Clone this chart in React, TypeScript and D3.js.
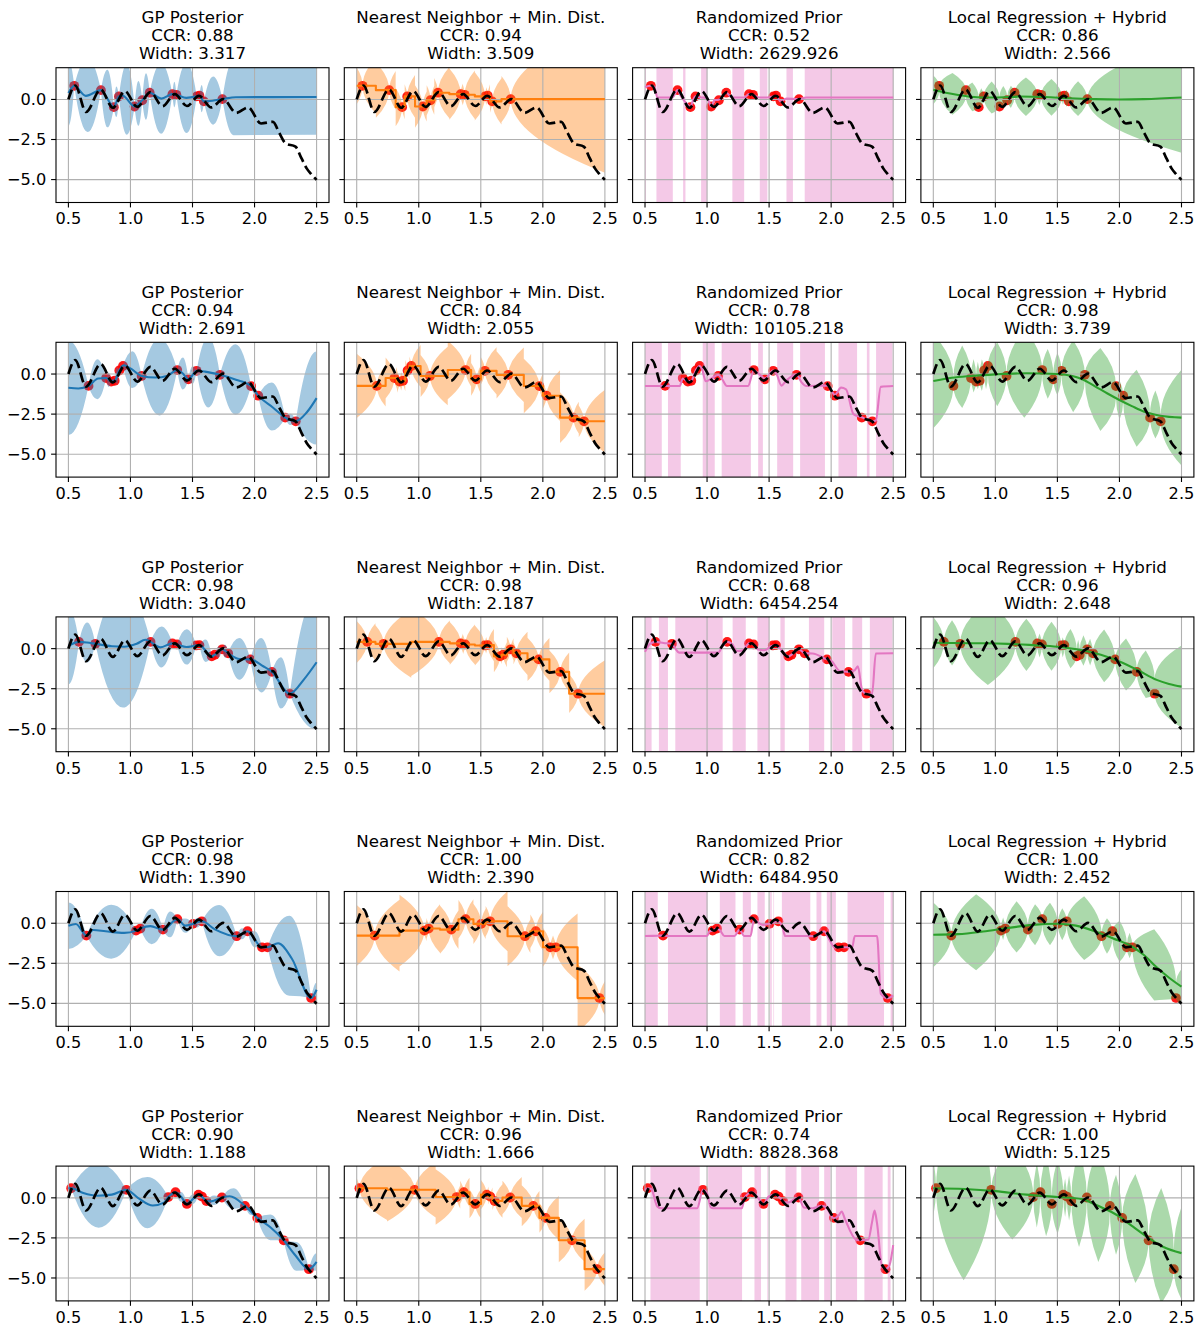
import React from "react";
import * as d3 from "d3";

// ---------------- text ----------------
const METHODS = ["GP Posterior", "Nearest Neighbor + Min. Dist.", "Randomized Prior", "Local Regression + Hybrid"];
const COLORS = ["#1f77b4", "#ff7f0e", "#e377c2", "#2ca02c"];
const CCR_ROWS = [
  ["0.88", "0.94", "0.52", "0.86"],
  ["0.94", "0.84", "0.78", "0.98"],
  ["0.98", "0.98", "0.68", "0.96"],
  ["0.98", "1.00", "0.82", "1.00"],
  ["0.90", "0.96", "0.74", "1.00"],
];
const WIDTH_ROWS = [
  ["3.317", "3.509", "2629.926", "2.566"],
  ["2.691", "2.055", "10105.218", "3.739"],
  ["3.040", "2.187", "6454.254", "2.648"],
  ["1.390", "2.390", "6484.950", "2.452"],
  ["1.188", "1.666", "8828.368", "5.125"],
];
const X_TICKS = [0.5, 1.0, 1.5, 2.0, 2.5];
const Y_TICKS = [-5, -2.5, 0];

// ---------------- true function (dashed) ----------------
const TRUE_X = [0.5, 0.555, 0.642, 0.76, 0.858, 0.955, 1.055, 1.16, 1.258, 1.358, 1.455, 1.552, 1.652, 1.747, 1.852, 1.948, 2.052, 2.148, 2.2, 2.25, 2.33, 2.38, 2.42, 2.456, 2.5];
const TRUE_Y = [0.0, 0.87, -0.78, 0.62, -0.52, 0.52, -0.47, 0.45, -0.42, 0.33, -0.41, 0.22, -0.5, 0.02, -0.84, -0.5, -1.5, -1.4, -2.1, -2.74, -2.95, -3.7, -4.3, -4.65, -5.02];

// ---------------- training points per row ----------------
const P1_X = [0.547, 0.762, 0.866, 0.907, 1.033, 1.095, 1.155, 1.338, 1.37, 1.534, 1.556, 1.592, 1.741];
const P1_Y = [0.85, 0.58, -0.48, 0.19, -0.44, -0.05, 0.42, 0.33, 0.29, 0.19, 0.23, -0.12, 0.02];
const P2_X = [0.662, 0.804, 0.845, 0.873, 0.91, 0.94, 1.09, 1.377, 1.467, 1.533, 1.721, 1.972, 2.03, 2.247, 2.332];
const P2_Y = [-0.74, -0.25, -0.47, -0.42, 0.22, 0.5, -0.12, 0.25, -0.33, 0.2, -0.05, -0.75, -1.35, -2.72, -2.95];
const P3_X = [0.585, 0.717, 1.162, 1.338, 1.375, 1.53, 1.556, 1.655, 1.68, 1.74, 1.787, 1.966, 2.14, 2.284];
const P3_Y = [0.42, 0.3, 0.42, 0.33, 0.26, 0.2, 0.22, -0.48, -0.38, -0.04, -0.29, -0.67, -1.45, -2.81];
const P4_X = [0.645, 1.045, 1.08, 1.262, 1.378, 1.503, 1.575, 1.856, 1.943, 2.06, 2.104, 2.456];
const P4_Y = [-0.77, -0.46, -0.33, -0.4, 0.25, -0.04, 0.12, -0.81, -0.5, -1.5, -1.5, -4.67];
const P5_X = [0.522, 0.967, 1.305, 1.363, 1.455, 1.548, 1.576, 1.612, 1.737, 1.923, 2.022, 2.235, 2.438];
const P5_Y = [0.6, 0.5, 0.05, 0.35, -0.38, 0.2, 0.08, -0.2, 0.02, -0.5, -1.25, -2.65, -4.45];

// ---------------- GP posterior: mean knots, half-widths (left edge, gaps, right edge) ----------------
const GP1_X = [0.5, 0.547, 0.64, 0.762, 0.81, 0.866, 0.907, 0.935, 1.033, 1.095, 1.155, 1.25, 1.338, 1.37, 1.45, 1.534, 1.556, 1.592, 1.66, 1.741, 1.85, 2.5];
const GP1_Y = [0.4, 0.85, 0.22, 0.58, 0.1, -0.48, 0.19, 0.25, -0.44, -0.05, 0.42, 0.05, 0.33, 0.29, 0.1, 0.19, 0.23, -0.12, -0.08, 0.02, 0.14, 0.15];
const GP1_HW = [2.05, 2.3, 1.8, 0.95, 2.2, 1.4, 1.45, 2.2, 0.8, 2.2, 0.25, 0.85, 1.5, 2.35];
const GP1_EX_X = [1.83];
const GP1_EX_HW = [2.35];
const GP2_X = [0.5, 0.58, 0.662, 0.74, 0.804, 0.845, 0.873, 0.91, 0.945, 1.0, 1.09, 1.2, 1.3, 1.377, 1.42, 1.467, 1.533, 1.6, 1.721, 1.85, 1.972, 2.03, 2.15, 2.247, 2.332, 2.42, 2.5];
const GP2_Y = [-0.86, -0.9, -0.74, -0.28, -0.25, -0.47, -0.42, 0.22, 0.55, 0.35, -0.12, -0.22, -0.1, 0.25, 0.05, -0.33, 0.2, 0.15, -0.05, -0.35, -0.75, -1.35, -2.1, -2.72, -2.95, -2.4, -1.5];
const GP2_HW = [2.95, 1.25, 0.45, 0.2, 0.5, 0.2, 1.15, 2.4, 1.0, 0.55, 2.2, 2.2, 0.2, 1.5, 0.35, 2.9];
const GP3_X = [0.5, 0.585, 0.65, 0.717, 0.85, 0.95, 1.05, 1.12, 1.162, 1.24, 1.338, 1.375, 1.45, 1.53, 1.556, 1.655, 1.68, 1.74, 1.787, 1.88, 1.966, 2.07, 2.14, 2.284, 2.4, 2.5];
const GP3_Y = [0.17, 0.42, 0.38, 0.3, 0.15, 0.12, 0.3, 0.55, 0.42, 0.08, 0.33, 0.26, 0.1, 0.2, 0.22, -0.48, -0.38, -0.04, -0.29, -0.65, -0.67, -1.1, -1.45, -2.81, -1.9, -0.85];
const GP3_HW = [2.4, 1.25, 3.8, 1.28, 0.15, 1.1, 0.1, 0.7, 0.15, 0.35, 0.4, 1.3, 1.7, 1.6, 4.2];
const GP4_X = [0.5, 0.56, 0.645, 0.7, 0.8, 0.95, 1.045, 1.08, 1.16, 1.262, 1.378, 1.44, 1.503, 1.575, 1.68, 1.856, 1.943, 2.06, 2.104, 2.19, 2.3, 2.456, 2.5];
const GP4_Y = [-0.15, -0.05, -0.77, -0.42, -0.5, -0.6, -0.46, -0.33, -0.18, -0.4, 0.25, -0.15, -0.04, 0.12, -0.38, -0.81, -0.5, -1.5, -1.5, -1.25, -2.2, -4.67, -4.15];
const GP4_HW = [1.45, 1.68, 0.1, 1.1, 0.8, 0.45, 0.3, 1.6, 0.35, 0.5, 0.1, 2.5, 0.45];
const GP5_X = [0.5, 0.522, 0.62, 0.73, 0.85, 0.967, 1.06, 1.18, 1.27, 1.305, 1.363, 1.41, 1.455, 1.548, 1.576, 1.612, 1.65, 1.737, 1.8, 1.923, 2.022, 2.13, 2.235, 2.33, 2.438, 2.5];
const GP5_Y = [0.6, 0.6, 0.3, 0.13, 0.2, 0.5, 0.0, -0.48, -0.3, 0.05, 0.35, 0.05, -0.38, 0.2, 0.08, -0.2, -0.22, 0.02, 0.1, -0.5, -1.25, -1.85, -2.65, -3.6, -4.45, -4.0];
const GP5_HW = [0.2, 2.0, 1.6, 0.1, 0.3, 0.3, 0.05, 0.1, 0.3, 0.65, 0.2, 0.8, 0.9, 0.55];

// ---------------- Nearest neighbour: half-widths (left edge, gaps, right edge) ----------------
const NN1_HW = [1.15, 1.73, 1.2, 0.76, 1.33, 0.93, 0.91, 1.6, 0.67, 1.51, 0.55, 0.71, 1.44, 4.6];
const NN2_HW = [2.0, 1.28, 0.69, 0.57, 0.65, 0.59, 1.31, 1.82, 1.02, 0.87, 1.47, 1.7, 0.82, 1.58, 0.99, 1.97];
const NN3_HW = [1.31, 1.16, 2.12, 1.33, 0.61, 1.25, 0.51, 1.0, 0.5, 0.78, 0.69, 1.35, 1.33, 1.21, 2.09];
const NN4_HW = [1.9, 2.24, 0.66, 1.51, 1.2, 1.25, 0.95, 1.87, 1.04, 1.21, 0.74, 2.1, 1.05];
const NN5_HW = [0.62, 1.98, 1.73, 0.72, 0.9, 0.91, 0.5, 0.56, 1.05, 1.28, 0.93, 1.37, 1.34, 1.05];

// ---------------- Randomized prior: mean knots and wide-band intervals ----------------
const RP1_X = [0.5, 0.547, 0.575, 0.6, 0.72, 0.762, 0.79, 0.84, 0.866, 0.885, 0.907, 0.95, 1.0, 1.033, 1.06, 1.095, 1.155, 1.2, 1.3, 1.338, 1.37, 1.42, 1.49, 1.534, 1.556, 1.592, 1.64, 1.741, 1.8, 2.5];
const RP1_Y = [0.78, 0.85, 0.8, 0.12, 0.12, 0.58, 0.2, -0.3, -0.48, -0.1, 0.19, 0.12, 0.1, -0.44, -0.05, -0.02, 0.42, 0.12, 0.12, 0.33, 0.29, 0.12, 0.12, 0.19, 0.23, -0.12, 0.05, 0.02, 0.12, 0.12];
const RP1_S0 = [0.5, 0.592, 0.807, 0.952, 1.204, 1.425, 1.64, 1.787];
const RP1_S1 = [0.508, 0.724, 0.826, 1.001, 1.299, 1.486, 1.692, 2.5];
const RP2_X = [0.5, 0.78, 0.804, 0.845, 0.873, 0.91, 0.94, 0.96, 0.99, 1.03, 1.09, 1.12, 1.16, 1.33, 1.377, 1.42, 1.467, 1.533, 1.56, 1.6, 1.64, 1.721, 1.76, 1.8, 1.95, 1.972, 2.03, 2.08, 2.12, 2.18, 2.247, 2.332, 2.36, 2.4, 2.5];
const RP2_Y = [-0.75, -0.75, -0.28, -0.45, -0.42, 0.25, 0.5, 0.3, -0.45, -0.3, -0.05, -0.3, -0.75, -0.75, 0.22, 0.0, -0.28, 0.22, 0.0, -0.72, -0.4, -0.02, -0.5, -0.75, -0.72, -0.72, -1.3, -0.85, -0.95, -2.5, -2.7, -2.95, -2.9, -0.8, -0.75];
const RP2_S0 = [0.5, 0.685, 0.965, 1.118, 1.412, 1.565, 1.75, 2.059, 2.288, 2.362];
const RP2_S1 = [0.635, 0.788, 1.062, 1.353, 1.45, 1.694, 1.95, 2.209, 2.309, 2.494];
const RP3_X = [0.5, 0.54, 0.585, 0.65, 0.717, 0.745, 0.775, 1.09, 1.12, 1.162, 1.2, 1.24, 1.29, 1.338, 1.375, 1.41, 1.46, 1.53, 1.556, 1.6, 1.655, 1.68, 1.74, 1.787, 1.85, 1.966, 2.0, 2.07, 2.14, 2.19, 2.215, 2.25, 2.284, 2.33, 2.36, 2.5];
const RP3_Y = [-0.2, 0.3, 0.42, 0.35, 0.3, 0.0, -0.25, -0.25, 0.1, 0.42, 0.3, -0.15, -0.1, 0.33, 0.26, -0.05, -0.1, 0.2, 0.22, -0.1, -0.48, -0.38, -0.04, -0.29, -0.3, -0.67, -0.75, -1.4, -1.45, -1.35, -1.1, -2.6, -2.81, -2.81, -0.3, -0.29];
const RP3_S0 = [0.5, 0.612, 0.744, 1.206, 1.406, 1.591, 1.821, 2.009, 2.171, 2.312];
const RP3_S1 = [0.553, 0.685, 1.126, 1.312, 1.5, 1.626, 1.944, 2.112, 2.25, 2.494];
const RP4_X = [0.5, 0.6, 0.645, 0.69, 1.0, 1.02, 1.045, 1.08, 1.11, 1.14, 1.22, 1.262, 1.3, 1.35, 1.378, 1.42, 1.45, 1.503, 1.575, 1.61, 1.63, 1.82, 1.856, 1.9, 1.943, 1.97, 2.03, 2.06, 2.104, 2.17, 2.19, 2.37, 2.4, 2.456, 2.5];
const RP4_Y = [-0.8, -0.78, -0.77, -0.8, -0.8, -0.5, -0.46, -0.33, -0.5, -0.8, -0.8, -0.4, -0.8, -0.8, 0.25, 0.0, -0.1, -0.04, 0.12, -0.3, -0.8, -0.8, -0.81, -0.7, -0.5, -0.8, -1.5, -1.5, -1.5, -1.5, -0.8, -0.8, -4.4, -4.67, -4.5];
const RP4_S0 = [0.5, 0.685, 1.103, 1.288, 1.406, 1.509, 1.535, 1.603, 1.882, 1.965, 2.132, 2.479];
const RP4_S1 = [0.603, 1.003, 1.229, 1.353, 1.465, 1.521, 1.54, 1.832, 1.921, 2.038, 2.426, 2.5];
const RP5_X = [0.5, 0.522, 0.55, 0.6, 0.63, 0.92, 0.967, 1.0, 1.03, 1.05, 1.28, 1.305, 1.363, 1.41, 1.455, 1.5, 1.548, 1.576, 1.612, 1.65, 1.737, 1.78, 1.85, 1.923, 1.96, 2.022, 2.06, 2.085, 2.11, 2.2, 2.235, 2.3, 2.33, 2.35, 2.37, 2.41, 2.438, 2.47, 2.5];
const RP5_Y = [0.5, 0.6, 0.55, -0.55, -0.65, -0.65, 0.5, 0.3, -0.6, -0.65, -0.65, 0.05, 0.35, 0.0, -0.38, 0.1, 0.2, 0.08, -0.2, -0.3, 0.02, -0.6, -0.65, -0.5, -0.6, -1.28, -1.1, -0.85, -1.3, -2.6, -2.65, -2.6, -1.5, -0.8, -1.6, -4.3, -4.45, -4.2, -2.95];
const RP5_S0 = [0.544, 1.009, 1.382, 1.486, 1.632, 1.759, 1.944, 2.038, 2.268, 2.456];
const RP5_S1 = [0.941, 1.282, 1.435, 1.494, 1.721, 1.903, 1.994, 2.209, 2.415, 2.479];

// ---------------- Local regression + hybrid: mean knots, half-widths ----------------
const LR1_X = [0.5, 0.6, 0.7, 0.8, 0.9, 1.0, 1.2, 1.4, 1.6, 1.8, 2.0, 2.2, 2.5];
const LR1_Y = [0.6, 0.42, 0.28, 0.17, 0.12, 0.12, 0.18, 0.15, 0.07, 0.02, 0.0, 0.02, 0.12];
const LR1_HW = [0.9, 1.3, 0.9, 0.57, 1.0, 0.7, 0.69, 1.2, 0.5, 1.14, 0.42, 0.53, 1.08, 3.45];
const LR2_X = [0.5, 0.65, 0.8, 1.0, 1.25, 1.5, 1.62, 1.7, 1.8, 1.9, 2.0, 2.1, 2.2, 2.33, 2.5];
const LR2_Y = [-0.44, -0.23, -0.12, -0.02, 0.05, 0.0, -0.12, -0.32, -0.75, -1.2, -1.62, -2.0, -2.35, -2.6, -2.72];
const LR2_HW = [2.94, 1.95, 1.05, 0.86, 0.99, 0.89, 2.0, 2.77, 1.55, 1.33, 2.24, 2.59, 1.24, 2.4, 1.5, 2.99];
const LR3_X = [0.5, 0.8, 1.1, 1.3, 1.5, 1.7, 1.85, 2.0, 2.15, 2.3, 2.4, 2.5];
const LR3_Y = [0.37, 0.34, 0.3, 0.22, 0.12, -0.1, -0.38, -0.8, -1.35, -1.95, -2.2, -2.37];
const LR3_HW = [1.6, 1.41, 2.59, 1.63, 0.75, 1.53, 0.63, 1.22, 0.61, 0.95, 0.84, 1.65, 1.62, 1.48, 2.56];
const LR4_X = [0.5, 0.7, 0.9, 1.1, 1.3, 1.5, 1.65, 1.8, 1.95, 2.1, 2.2, 2.3, 2.4, 2.5];
const LR4_Y = [-0.72, -0.68, -0.52, -0.3, -0.1, -0.03, -0.15, -0.5, -0.95, -1.45, -2.0, -2.75, -3.4, -3.96];
const LR4_HW = [2.02, 2.37, 0.7, 1.6, 1.28, 1.33, 1.0, 1.99, 1.11, 1.28, 0.79, 2.22, 1.11];
const LR5_X = [0.5, 0.75, 1.0, 1.25, 1.5, 1.7, 1.8, 1.9, 2.0, 2.1, 2.235, 2.35, 2.5];
const LR5_Y = [0.6, 0.55, 0.42, 0.2, 0.05, -0.08, -0.4, -0.75, -1.17, -1.75, -2.5, -3.05, -3.45];
const LR5_HW = [1.75, 5.7, 2.9, 2.0, 2.5, 2.3, 1.2, 1.4, 3.0, 3.5, 2.5, 3.4, 3.6, 2.9];

const EMPTY: number[] = [];

const ROWS = [
  { px: P1_X, py: P1_Y, gx: GP1_X, gy: GP1_Y, ghw: GP1_HW, gex: GP1_EX_X, gew: GP1_EX_HW, nhw: NN1_HW, rx: RP1_X, ry: RP1_Y, s0: RP1_S0, s1: RP1_S1, lx: LR1_X, ly: LR1_Y, lhw: LR1_HW },
  { px: P2_X, py: P2_Y, gx: GP2_X, gy: GP2_Y, ghw: GP2_HW, gex: EMPTY, gew: EMPTY, nhw: NN2_HW, rx: RP2_X, ry: RP2_Y, s0: RP2_S0, s1: RP2_S1, lx: LR2_X, ly: LR2_Y, lhw: LR2_HW },
  { px: P3_X, py: P3_Y, gx: GP3_X, gy: GP3_Y, ghw: GP3_HW, gex: EMPTY, gew: EMPTY, nhw: NN3_HW, rx: RP3_X, ry: RP3_Y, s0: RP3_S0, s1: RP3_S1, lx: LR3_X, ly: LR3_Y, lhw: LR3_HW },
  { px: P4_X, py: P4_Y, gx: GP4_X, gy: GP4_Y, ghw: GP4_HW, gex: EMPTY, gew: EMPTY, nhw: NN4_HW, rx: RP4_X, ry: RP4_Y, s0: RP4_S0, s1: RP4_S1, lx: LR4_X, ly: LR4_Y, lhw: LR4_HW },
  { px: P5_X, py: P5_Y, gx: GP5_X, gy: GP5_Y, ghw: GP5_HW, gex: EMPTY, gew: EMPTY, nhw: NN5_HW, rx: RP5_X, ry: RP5_Y, s0: RP5_S0, s1: RP5_S1, lx: LR5_X, ly: LR5_Y, lhw: LR5_HW },
];

// ---------------- layout ----------------
const AX_LEFT0 = 56;
const AX_DX = 288.3;
const AX_TOP0 = 67.7;
const AX_DY = 274.6;
const AX_W = 273;
const AX_H = 134.8;
const X_DOMAIN = [0.4, 2.6];
const Y_DOMAIN = [-6.43, 1.98];
const FONT = "'DejaVu Sans', Verdana, sans-serif";
const TICK_FS = 16.2;
const TITLE_FS = 16.67;

type Knot = { x: number; lo: number; hi: number; p: boolean };

function gapCenters(px: number[]): number[] {
  const m = [0.5];
  for (let i = 0; i < px.length - 1; i++) m.push((px[i] + px[i + 1]) / 2);
  m.push(2.5);
  return m;
}

function gpKnots(r: any): Knot[] {
  const mean = d3.scaleLinear().domain(r.gx).range(r.gy);
  const ks: Knot[] = r.px.map((x: number, i: number) => ({ x, lo: r.py[i], hi: r.py[i], p: true }));
  gapCenters(r.px).forEach((x, j) => {
    const c = mean(x);
    ks.push({ x, lo: c - r.ghw[j], hi: c + r.ghw[j], p: false });
  });
  r.gex.forEach((x: number, j: number) => {
    const c = mean(x);
    ks.push({ x, lo: c - r.gew[j], hi: c + r.gew[j], p: false });
  });
  return ks.sort((a, b) => a.x - b.x);
}

function nnKnots(r: any): Knot[] {
  const n = r.px.length;
  const m = gapCenters(r.px);
  const hw = r.nhw;
  const ks: Knot[] = [{ x: 0.5, lo: r.py[0] - hw[0], hi: r.py[0] + hw[0], p: false }];
  for (let i = 0; i < n; i++) {
    ks.push({ x: r.px[i], lo: r.py[i], hi: r.py[i], p: true });
    if (i < n - 1) {
      const h = hw[i + 1];
      ks.push({ x: m[i + 1], lo: r.py[i] - h, hi: r.py[i] + h, p: false });
      ks.push({ x: m[i + 1], lo: r.py[i + 1] - h, hi: r.py[i + 1] + h, p: false });
    }
  }
  ks.push({ x: 2.5, lo: r.py[n - 1] - hw[n], hi: r.py[n - 1] + hw[n], p: false });
  return ks;
}

function lrKnots(r: any): Knot[] {
  const mean = d3.scaleLinear().domain(r.lx).range(r.ly);
  const ks: Knot[] = r.px.map((x: number, i: number) => {
    const c = mean(x);
    return { x, lo: Math.min(c, r.py[i]), hi: Math.max(c, r.py[i]), p: true };
  });
  gapCenters(r.px).forEach((x, j) => {
    const c = mean(x);
    ks.push({ x, lo: c - r.lhw[j], hi: c + r.lhw[j], p: false });
  });
  return ks.sort((a, b) => a.x - b.x);
}

function bandPath(ks: Knot[], sx: any, sy: any, style: "para" | "sqrt"): string {
  const p = d3.path();
  const seg = (a: Knot, b: Knot, key: "lo" | "hi") => {
    if (a.x === b.x || a.p === b.p) {
      p.lineTo(sx(b.x), sy(b[key]));
      return;
    }
    const P = a.p ? a : b;
    const Q = a.p ? b : a;
    let cx: number, cy: number;
    if (style === "para") {
      cx = (P.x + Q.x) / 2;
      cy = Q[key];
    } else {
      cx = P.x;
      cy = (P[key] + Q[key]) / 2;
    }
    p.quadraticCurveTo(sx(cx), sy(cy), sx(b.x), sy(b[key]));
  };
  p.moveTo(sx(ks[0].x), sy(ks[0].hi));
  for (let i = 1; i < ks.length; i++) seg(ks[i - 1], ks[i], "hi");
  p.lineTo(sx(ks[ks.length - 1].x), sy(ks[ks.length - 1].lo));
  for (let i = ks.length - 2; i >= 0; i--) seg(ks[i + 1], ks[i], "lo");
  p.closePath();
  return p.toString();
}

const zip = (xs: number[], ys: number[]): [number, number][] => xs.map((x, i) => [x, ys[i]]);

function Panel({ ri, ci }: { ri: number; ci: number }) {
  const r = ROWS[ri];
  const left = AX_LEFT0 + ci * AX_DX;
  const top = AX_TOP0 + ri * AX_DY;
  const sx = d3.scaleLinear().domain(X_DOMAIN).range([left, left + AX_W]);
  const sy = d3.scaleLinear().domain(Y_DOMAIN).range([top + AX_H, top]);
  const color = COLORS[ci];
  const clipId = `clip-${ri}-${ci}`;
  const mono = d3
    .line<[number, number]>()
    .x((d) => sx(d[0]))
    .y((d) => sy(d[1]))
    .curve(d3.curveMonotoneX);
  const trueD = mono(zip(TRUE_X, TRUE_Y)) || "";

  let bandD = "";
  let meanD = "";
  let stripes: [number, number][] = [];
  if (ci === 0) {
    bandD = bandPath(gpKnots(r), sx, sy, "para");
    meanD = mono(zip(r.gx, r.gy)) || "";
  } else if (ci === 1) {
    bandD = bandPath(nnKnots(r), sx, sy, "sqrt");
    const m = gapCenters(r.px);
    const steps: [number, number][] = r.px.map((_, i) => [m[i], r.py[i]] as [number, number]);
    steps.push([2.5, r.py[r.py.length - 1]]);
    const stepLine = d3
      .line<[number, number]>()
      .x((d) => sx(d[0]))
      .y((d) => sy(d[1]))
      .curve(d3.curveStepAfter);
    meanD = stepLine(steps) || "";
  } else if (ci === 2) {
    stripes = zip(r.s0, r.s1);
    meanD = mono(zip(r.rx, r.ry)) || "";
  } else {
    bandD = bandPath(lrKnots(r), sx, sy, "sqrt");
    meanD = mono(zip(r.lx, r.ly)) || "";
  }

  const bottom = top + AX_H;
  const cx = left + AX_W / 2;
  const titleBase = top - 8.3;
  const fmtY = (v: number) => (v < 0 ? "\u2212" : "") + Math.abs(v).toFixed(1);

  return (
    <g>
      <defs>
        <clipPath id={clipId}>
          <rect x={left} y={top} width={AX_W} height={AX_H} />
        </clipPath>
      </defs>
      <g clipPath={`url(#${clipId})`}>
        {r.px.map((x, i) => (
          <circle key={i} cx={sx(x)} cy={sy(r.py[i])} r={4.9} fill="#ff0000" fillOpacity={0.9} />
        ))}
        {bandD && <path d={bandD} fill={color} fillOpacity={0.4} stroke="none" />}
        {stripes.map(([a, b], i) => (
          <rect key={i} x={sx(a)} y={top} width={sx(b) - sx(a)} height={AX_H} fill={color} fillOpacity={0.4} />
        ))}
        {X_TICKS.map((t) => (
          <line key={"gx" + t} x1={sx(t)} x2={sx(t)} y1={top} y2={bottom} stroke="#b0b0b0" strokeWidth={1.1} />
        ))}
        {Y_TICKS.map((t) => (
          <line key={"gy" + t} x1={left} x2={left + AX_W} y1={sy(t)} y2={sy(t)} stroke="#b0b0b0" strokeWidth={1.1} />
        ))}
        <path d={meanD} fill="none" stroke={color} strokeWidth={2.1} strokeLinejoin="round" />
        <path d={trueD} fill="none" stroke="#000" strokeWidth={2.7} strokeDasharray="10.3,4.4" />
      </g>
      <rect x={left} y={top} width={AX_W} height={AX_H} fill="none" stroke="#000" strokeWidth={1.1} />
      {X_TICKS.map((t) => (
        <g key={"xt" + t}>
          <line x1={sx(t)} x2={sx(t)} y1={bottom} y2={bottom + 4.9} stroke="#000" strokeWidth={1.1} />
          <text x={sx(t)} y={bottom + 21.8} textAnchor="middle" fontSize={TICK_FS} fontFamily={FONT} fill="#000">
            {t.toFixed(1)}
          </text>
        </g>
      ))}
      {Y_TICKS.map((t) => (
        <g key={"yt" + t}>
          <line x1={left - 4.9} x2={left} y1={sy(t)} y2={sy(t)} stroke="#000" strokeWidth={1.1} />
          {ci === 0 && (
            <text x={left - 9.7} y={sy(t) + 5.9} textAnchor="end" fontSize={TICK_FS} fontFamily={FONT} fill="#000">
              {fmtY(t)}
            </text>
          )}
        </g>
      ))}
      <text textAnchor="middle" fontSize={TITLE_FS} fontFamily={FONT} fill="#000">
        <tspan x={cx} y={titleBase - 36}>{METHODS[ci]}</tspan>
        <tspan x={cx} y={titleBase - 18}>{`CCR: ${CCR_ROWS[ri][ci]}`}</tspan>
        <tspan x={cx} y={titleBase}>{`Width: ${WIDTH_ROWS[ri][ci]}`}</tspan>
      </text>
    </g>
  );
}

export default function App() {
  React.useEffect(() => {
    document.body.style.margin = "0";
  }, []);
  return (
    <svg
      width={1198}
      height={1326}
      viewBox="0 0 1198 1326"
      style={{ position: "absolute", left: 0, top: 0, display: "block" }}
      xmlns="http://www.w3.org/2000/svg"
    >
      <rect x={0} y={0} width={1198} height={1326} fill="#ffffff" />
      {ROWS.map((_, ri) => [0, 1, 2, 3].map((ci) => <Panel key={`${ri}-${ci}`} ri={ri} ci={ci} />))}
    </svg>
  );
}
